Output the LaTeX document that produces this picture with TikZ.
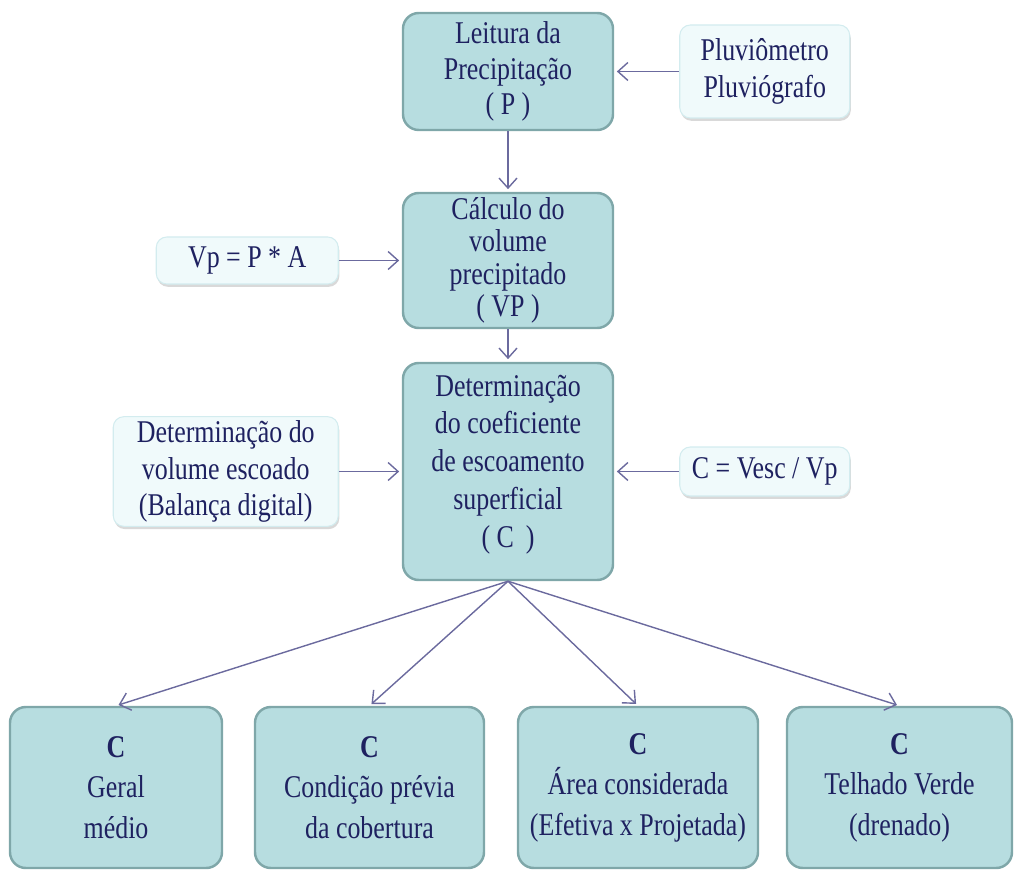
\documentclass[tikz,border=0pt]{standalone}
\usepackage{fontspec}
\setmainfont{Liberation Serif}[FakeStretch=0.82]
\usetikzlibrary{arrows.meta,positioning,shadows}
\definecolor{boxteal}{HTML}{B7DDE0}
\definecolor{boxedge}{HTML}{7FA7A9}
\definecolor{sidefill}{HTML}{F0FAFB}
\definecolor{sideedge}{HTML}{D3ECEF}
\definecolor{txtnavy}{HTML}{1E2160}
\definecolor{arrowpurple}{HTML}{6B6A9E}

\begin{document}
\begin{tikzpicture}[
  mainbox/.style={draw=boxedge,fill=boxteal,line width=1.4pt,rounded corners=9pt,minimum width=4.2cm,
                  align=center,text=txtnavy,inner sep=2pt,font=\fontsize{18}{20}\selectfont},
  resbox/.style={mainbox,minimum height=3.22cm,font=\fontsize{18}{23}\selectfont},
  sidebox/.style={draw=sideedge,fill=sidefill,line width=0.6pt,rounded corners=6pt,
                  drop shadow={opacity=0.3,shadow xshift=0.6pt,shadow yshift=-1.6pt},
                  align=center,text=txtnavy,inner sep=2pt,font=\fontsize{18}{21}\selectfont},
  every edge/.style={draw=arrowpurple,line width=0.8pt,-{Straight Barb[length=2mm,width=3.6mm]},shorten >=1.5pt},
]
  \useasboundingbox (0,0) rectangle (20.32,-17.44);

  % Central chain
  \node[mainbox,minimum height=2.34cm] (leit) at (10.16,-1.43) {Leitura da\\Precipitação\\( P )};
  \node[mainbox,minimum height=2.7cm,font=\fontsize{18}{18.5}\selectfont] (calc) at (10.16,-5.21)
       {Cálculo do\\volume\\precipitado\\( VP )};
  \node[mainbox,minimum height=4.34cm,font=\fontsize{18}{21.5}\selectfont] (det) at (10.16,-9.43)
       {Determinação\\do coeficiente\\de escoamento\\superficial\\( C\,\ )\rule[-12pt]{0pt}{0pt}};

  % Inputs
  \node[sidebox,minimum width=3.4cm,minimum height=1.86cm,right=1.3cm of leit] (pluv) {Pluviômetro\\Pluviógrafo};
  \node[sidebox,minimum width=3.64cm,minimum height=0.94cm,left=1.26cm of calc] (vp) {Vp = P * A};
  \node[sidebox,minimum width=4.5cm,minimum height=2.14cm,left=1.26cm of det] (vol)
       {Determinação do\\volume escoado\\(Balança digital)};
  \node[sidebox,minimum width=3.4cm,minimum height=0.98cm,right=1.3cm of det] (cvesc) {C = Vesc / Vp};

  % Results
  \node[resbox,minimum width=4.24cm] (geral) at (2.32,-15.75)  {\textbf{C}\\Geral\\médio};
  \node[resbox,minimum width=4.58cm] (cond)  at (7.39,-15.75)  {\textbf{C}\\Condição prévia\\da cobertura};
  \node[resbox,minimum width=4.8cm]  (area)  at (12.76,-15.75) {\textbf{C}\\Área considerada\\(Efetiva x Projetada)};
  \node[resbox,minimum width=4.5cm]  (telh)  at (17.99,-15.75) {\textbf{C}\\Telhado Verde\\(drenado)};

  % Arrows
  \draw (pluv) edge (leit);
  \draw (leit) edge (calc);
  \draw (vp) edge (calc);
  \draw (calc) edge (det);
  \draw (vol) edge (det);
  \draw (cvesc) edge (det);
  \draw (det.south) edge (geral.north)
        (det.south) edge (cond.north)
        (det.south) edge (area.north)
        (det.south) edge (telh.north);
\end{tikzpicture}
\end{document}
